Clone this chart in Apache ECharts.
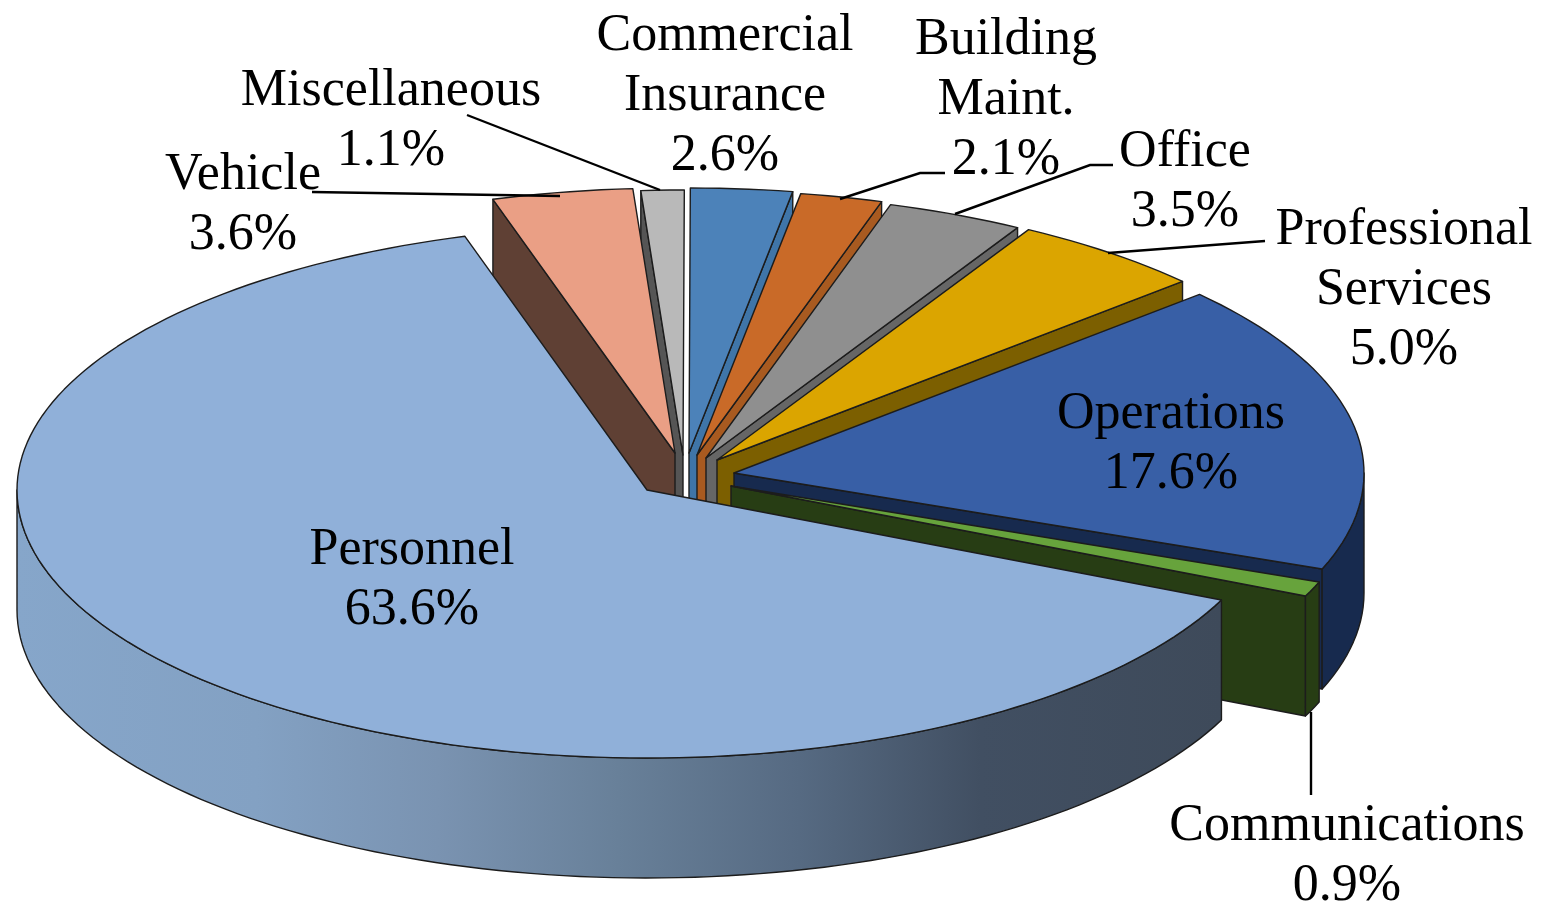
<!DOCTYPE html>
<html>
<head>
<meta charset="utf-8">
<title>Budget pie</title>
<style>
html,body{margin:0;padding:0;background:#fff;}
#chart{width:1541px;height:904px;}
</style>
<script src="https://cdn.jsdelivr.net/npm/echarts@6/dist/echarts.min.js"></script>
</head>
<body>
<div id="chart"></div>
<script>
// clockwise from the Vehicle slice
const categories = ["Vehicle","Miscellaneous","Commercial\nInsurance","Building\nMaint.","Office","Professional\nServices","Operations","Communications","Personnel"];
const values = [3.6,1.1,2.6,2.1,3.5,5.0,17.6,0.9,63.6];
const topColors = ["#ea9f85","#b9b9b9","#4c82b9","#c96a28","#8f8f8f","#dba500","#385fa6","#67a33c","#90b0d9"];
const wallColors = ["#5f4034","#555555","#3f75a8","#a85a20","#666666","#7c5f00","#172a4e","#273d14","#3e4a5a"];

// explode offsets: apex of each slice on screen
const apexX = [675,683,689,697,706,717,734,731,647];
const apexY = [453,455,453,455,458,460,473,486,490];
// paint order, back to front
const drawOrder = [1,0,2,3,4,5,6,7,8];

const labelX = [243,391,725,1006,1185,1404,1171,1347,412];
const labelY = [205,121,96,100,182,290,444,856,580];
const leaders = [
    [[312,192],[560,196]],
    [[467,115],[660,190]],
    [[840,199],[920,173],[945,173]],
    [[955,214],[1090,165],[1113,165]],
    [[1108,253],[1265,241]],
    [[1311,712],[1311,795]]
];

// back of the pie is a little flatter than the front (perspective)
const rx = 630, ryBack = 265, ryFront = 268, depth = 120, startAngle = 343.2;
const total = values.reduce((a,b)=>a+b,0);

const personnelWall = [[0,"#86a6ca"],[0.2,"#83a1c3"],[0.35,"#7a93b1"],[0.5,"#688099"],[0.65,"#566a82"],[0.8,"#414f62"],[1,"#3e4a5a"]];

function sliceAngles(i){
    let a = startAngle;
    for(let k=0;k<i;k++) a += values[k]/total*360;
    a = a%360;
    return [a, a+values[i]/total*360];
}

function rimPoint(i,deg,drop){
    const r = deg*Math.PI/180, c = Math.cos(r);
    return [apexX[i]+rx*Math.sin(r), apexY[i]-(c>0?ryBack:ryFront)*c+(drop||0)];
}

function arcPoints(i,a,b,drop){
    const n = Math.max(2,Math.ceil((b-a)/1.5)), pts = [];
    for(let k=0;k<=n;k++) pts.push(rimPoint(i,a+(b-a)*k/n,drop));
    return pts;
}

function renderSlice(params,api){
    const i = api.value(0);
    const [a,b] = sliceAngles(i);
    const line = {stroke:"#1c1c1c",lineWidth:1.4,lineJoin:"round"};
    const apex = [apexX[i],apexY[i]], apexLow = [apexX[i],apexY[i]+depth];
    const kids = [];
    const poly = (points,fill)=>kids.push({type:"polygon",shape:{points},style:Object.assign({fill},line)});

    // radial side walls, only the ones that face the viewer
    if(a>180 && a<360) poly([apex,rimPoint(i,a),rimPoint(i,a,depth),apexLow],wallColors[i]);
    if(b>0 && b<180) poly([apex,rimPoint(i,b),rimPoint(i,b,depth),apexLow],wallColors[i]);

    // outer wall, front half of the rim only
    const lo = Math.max(a,90), hi = Math.min(b,270);
    if(hi>lo){
        const fill = categories[i]==="Personnel"
            ? {type:"linear",global:true,x:15,y:0,x2:1222,y2:0,colorStops:personnelWall.map(s=>({offset:s[0],color:s[1]}))}
            : wallColors[i];
        poly(arcPoints(i,lo,hi).concat(arcPoints(i,lo,hi,depth).reverse()),fill);
    }

    poly([apex].concat(arcPoints(i,a,b)),topColors[i]);
    return {type:"group",children:kids};
}

function renderLabel(params,api){
    const i = api.value(0);
    return {
        type:"text",
        style:{
            text:categories[i]+"\n"+values[i].toFixed(1)+"%",
            x:labelX[i],y:labelY[i],
            align:"center",verticalAlign:"middle",
            font:'52px "Liberation Serif"',lineHeight:60,fill:"#000"
        }
    };
}

function renderLeader(params,api){
    return {
        type:"polyline",
        shape:{points:leaders[api.value(0)]},
        style:{stroke:"#000",lineWidth:2.4,fill:null}
    };
}

const chart = echarts.init(document.getElementById("chart"));
chart.setOption({
    animation:false,
    backgroundColor:"#fff",
    series:[
        {type:"custom",coordinateSystem:"none",silent:true,renderItem:renderSlice,data:drawOrder.map(i=>[i]),z:1},
        {type:"custom",coordinateSystem:"none",silent:true,renderItem:renderLeader,data:leaders.map((l,i)=>[i]),z:2},
        {type:"custom",coordinateSystem:"none",silent:true,renderItem:renderLabel,data:categories.map((c,i)=>[i]),z:3}
    ]
});
</script>
</body>
</html>
